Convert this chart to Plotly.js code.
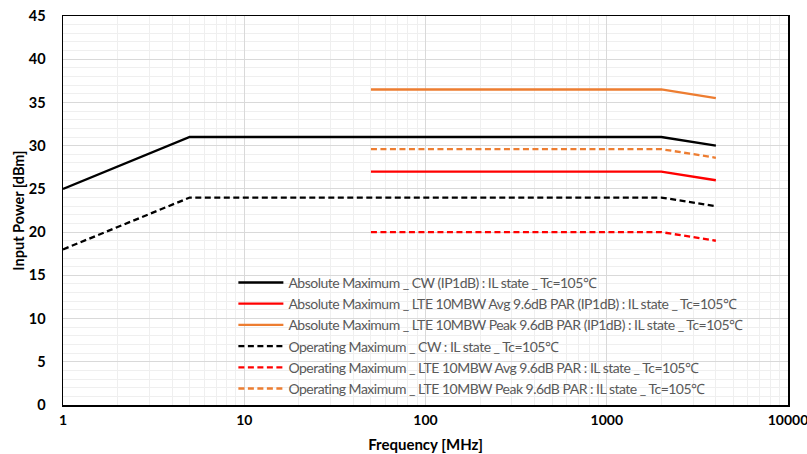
<!DOCTYPE html>
<html>
<head>
<meta charset="utf-8">
<script src="https://cdn.plot.ly/plotly-3.0.1.min.js"></script>
<style>html,body{margin:0;padding:0;background:#fff;}#chart{width:807px;height:454px;}
#chart .legendtext{letter-spacing:-0.5px;}</style>
</head>
<body>
<div id="chart"></div>
<script>
// Data
const freqCW = [1, 5, 2000, 4000];
const freqLTE = [50, 2000, 4000];
const absCW = [25, 31, 31, 30];
const absLteAvg = [27, 27, 26];
const absLtePeak = [36.5, 36.5, 35.5];
const opCW = [18, 24, 24, 23];
const opLteAvg = [20, 20, 19];
const opLtePeak = [29.6, 29.6, 28.6];
const seriesNames = [
  'Absolute Maximum _ CW (IP1dB) : IL state _ Tc=105℃',
  'Absolute Maximum _ LTE 10MBW Avg 9.6dB PAR (IP1dB) : IL state _ Tc=105℃',
  'Absolute Maximum _ LTE 10MBW Peak 9.6dB PAR (IP1dB) : IL state _ Tc=105℃',
  'Operating Maximum _ CW : IL state _ Tc=105℃',
  'Operating Maximum _ LTE 10MBW Avg 9.6dB PAR : IL state _ Tc=105℃',
  'Operating Maximum _ LTE 10MBW Peak 9.6dB PAR : IL state _ Tc=105℃'
];
const xTickVals = [1, 10, 100, 1000, 10000];
const xTickText = ['1', '10', '100', '1000', '10000'];

const black = '#000000', red = '#ff0000', orange = '#ed7d31';
function tr(x, y, name, color, dash) {
  return {x: x, y: y, name: name, type: 'scatter', mode: 'lines',
    line: {color: color, width: 2.3, dash: dash}, hoverinfo: 'skip'};
}
const dashed = '6px,3.5px';
const data = [
  tr(freqCW, absCW, seriesNames[0], black, 'solid'),
  tr(freqLTE, absLteAvg, seriesNames[1], red, 'solid'),
  tr(freqLTE, absLtePeak, seriesNames[2], orange, 'solid'),
  tr(freqCW, opCW, seriesNames[3], black, dashed),
  tr(freqLTE, opLteAvg, seriesNames[4], red, dashed),
  tr(freqLTE, opLtePeak, seriesNames[5], orange, dashed)
];
const layout = {
  width: 807, height: 454,
  margin: {l: 63, r: 19, t: 16, b: 49},
  paper_bgcolor: '#fff', plot_bgcolor: '#fff',
  font: {family: 'Lato, "Liberation Sans", sans-serif', color: '#000'},
  showlegend: true,
  legend: {x: 0.235, y: 0.355, xanchor: 'left', yanchor: 'top',
    bgcolor: 'rgba(0,0,0,0)', font: {size: 14, color: '#595959'},
    itemwidth: 45, tracegroupgap: 0},
  xaxis: {type: 'log', range: [0, 4], tickvals: xTickVals, ticktext: xTickText,
    tickfont: {size: 14, weight: 'bold'}, ticks: '', ticklen: 0,
    ticklabelstandoff: 2, ticklabeloverflow: 'allow',
    showline: true, linecolor: '#000', linewidth: 1.5, mirror: true,
    showgrid: true, gridcolor: '#d9d9d9', gridwidth: 1, zeroline: false,
    minor: {dtick: 'D1', showgrid: true, gridcolor: '#efefef', gridwidth: 1, ticks: ''},
    title: {text: '<b>Frequency [MHz]</b>', font: {size: 15}, standoff: 12}},
  yaxis: {range: [0, 45], dtick: 5, tickfont: {size: 14.5, weight: 'bold'},
    showline: true, linecolor: '#000', linewidth: 1.5, mirror: true,
    showgrid: true, gridcolor: '#d9d9d9', gridwidth: 1, zeroline: false,
    minor: {dtick: 1, showgrid: true, gridcolor: '#efefef', gridwidth: 1, ticks: ''},
    ticklabelstandoff: 13,
    title: {text: '<b>Input Power [dBm]</b>', font: {size: 14.5}, standoff: 0}}
};
Plotly.newPlot('chart', data, layout, {displayModeBar: false, staticPlot: true});
</script>
</body>
</html>
